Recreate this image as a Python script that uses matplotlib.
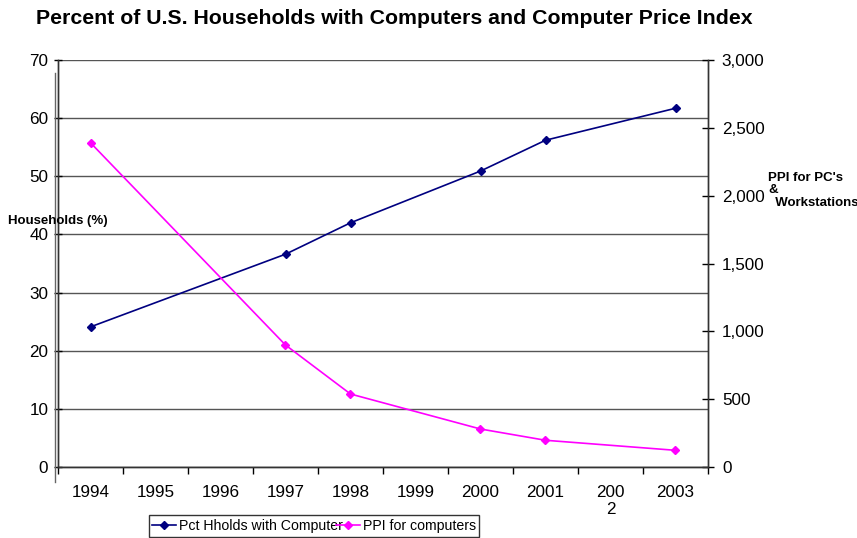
import matplotlib
matplotlib.use("Agg")
import matplotlib.pyplot as plt
from matplotlib.lines import Line2D
import numpy as np

plt.rcParams['font.family'] = ['Liberation Sans', 'DejaVu Sans']

categories = ["1994", "1995", "1996", "1997", "1998", "1999", "2000", "2001", "200\n2", "2003"]
data_years_idx = [0, 3, 4, 6, 7, 9]
pct_households = [24.1, 36.6, 42.0, 50.9, 56.2, 61.7]
ppi_computers = [2390, 899, 538, 280, 197, 123]
left_ticks = [0, 10, 20, 30, 40, 50, 60, 70]
right_ticks = [0, 500, 1000, 1500, 2000, 2500, 3000]

fig = plt.figure(figsize=(8.57, 5.38), dpi=100)
ax = fig.add_axes([58/857, 1-467/538, (708-58)/857, (467-60)/538])
ax2 = ax.twinx()

ax.set_xlim(-0.5, 9.5)
ax.set_ylim(0, 70)
ax2.set_ylim(0, 3000)

tick_font = dict(size=12.3)
ax.set_yticks(left_ticks)
ax.set_yticklabels([str(t) for t in left_ticks], fontdict=tick_font)
ax2.set_yticks(right_ticks)
ax2.set_yticklabels([f"{t:,}" for t in right_ticks], fontdict=tick_font)

ax.set_xticks(np.arange(len(categories)))
ax.set_xticklabels(categories, fontdict=tick_font, va='top')
ax.set_xticks(np.arange(len(categories) + 1) - 0.5, minor=True)
ax.tick_params(axis='x', which='major', length=0, pad=13)
ax.tick_params(axis='x', which='minor', length=5, direction='out', width=1)
ax.tick_params(axis='y', which='major', length=6, direction='inout', width=1, pad=4)
ax2.tick_params(axis='y', which='major', length=8, direction='inout', width=1, pad=6)

ax.grid(axis='y', color='#555555', linewidth=1)
ax.set_axisbelow(True)
for sp in ['top']:
    ax.spines[sp].set_visible(False)
    ax2.spines[sp].set_visible(False)
for a in (ax, ax2):
    for sp in a.spines.values():
        sp.set_color('#333333')
        sp.set_linewidth(1)

x_data = np.array(data_years_idx)
l1, = ax.plot(x_data, pct_households, color='#000080', marker='D', markersize=4,
              linewidth=1.2, label='Pct Hholds with Computer')
l2, = ax2.plot(x_data, ppi_computers, color='#FF00FF', marker='D', markersize=4,
               linewidth=1.2, label='PPI for computers')

fig.text(394/857, 1-18/538, "Percent of U.S. Households with Computers and Computer Price Index",
         ha='center', va='center', fontsize=15.3, fontweight='bold')
fig.text(8/857, 1-221/538, "Households (%)", ha='left', va='center', fontsize=9.5, fontweight='bold')
fig.text(768/857, 1-172/538, "PPI for PC's\n&\n  Workstations", ha='left', va='top',
         fontsize=9.5, fontweight='bold', linespacing=1.05)

# secondary left frame line (Excel style)
fig.add_artist(Line2D([55/857, 55/857], [1-482/538, 1-73/538], color='#666666', linewidth=1,
                      transform=fig.transFigure))

leg = fig.legend(handles=[l1, l2], loc='center', bbox_to_anchor=(314/857, 1-526/538), ncol=2,
                 prop=dict(size=10.2),
                 frameon=True, fancybox=False, edgecolor='black',
                 handlelength=1.7, handletextpad=0.2, columnspacing=-0.5,
                 borderpad=0.25, borderaxespad=0)
leg.get_frame().set_linewidth(1)

fig.savefig("out.png", dpi=100)
